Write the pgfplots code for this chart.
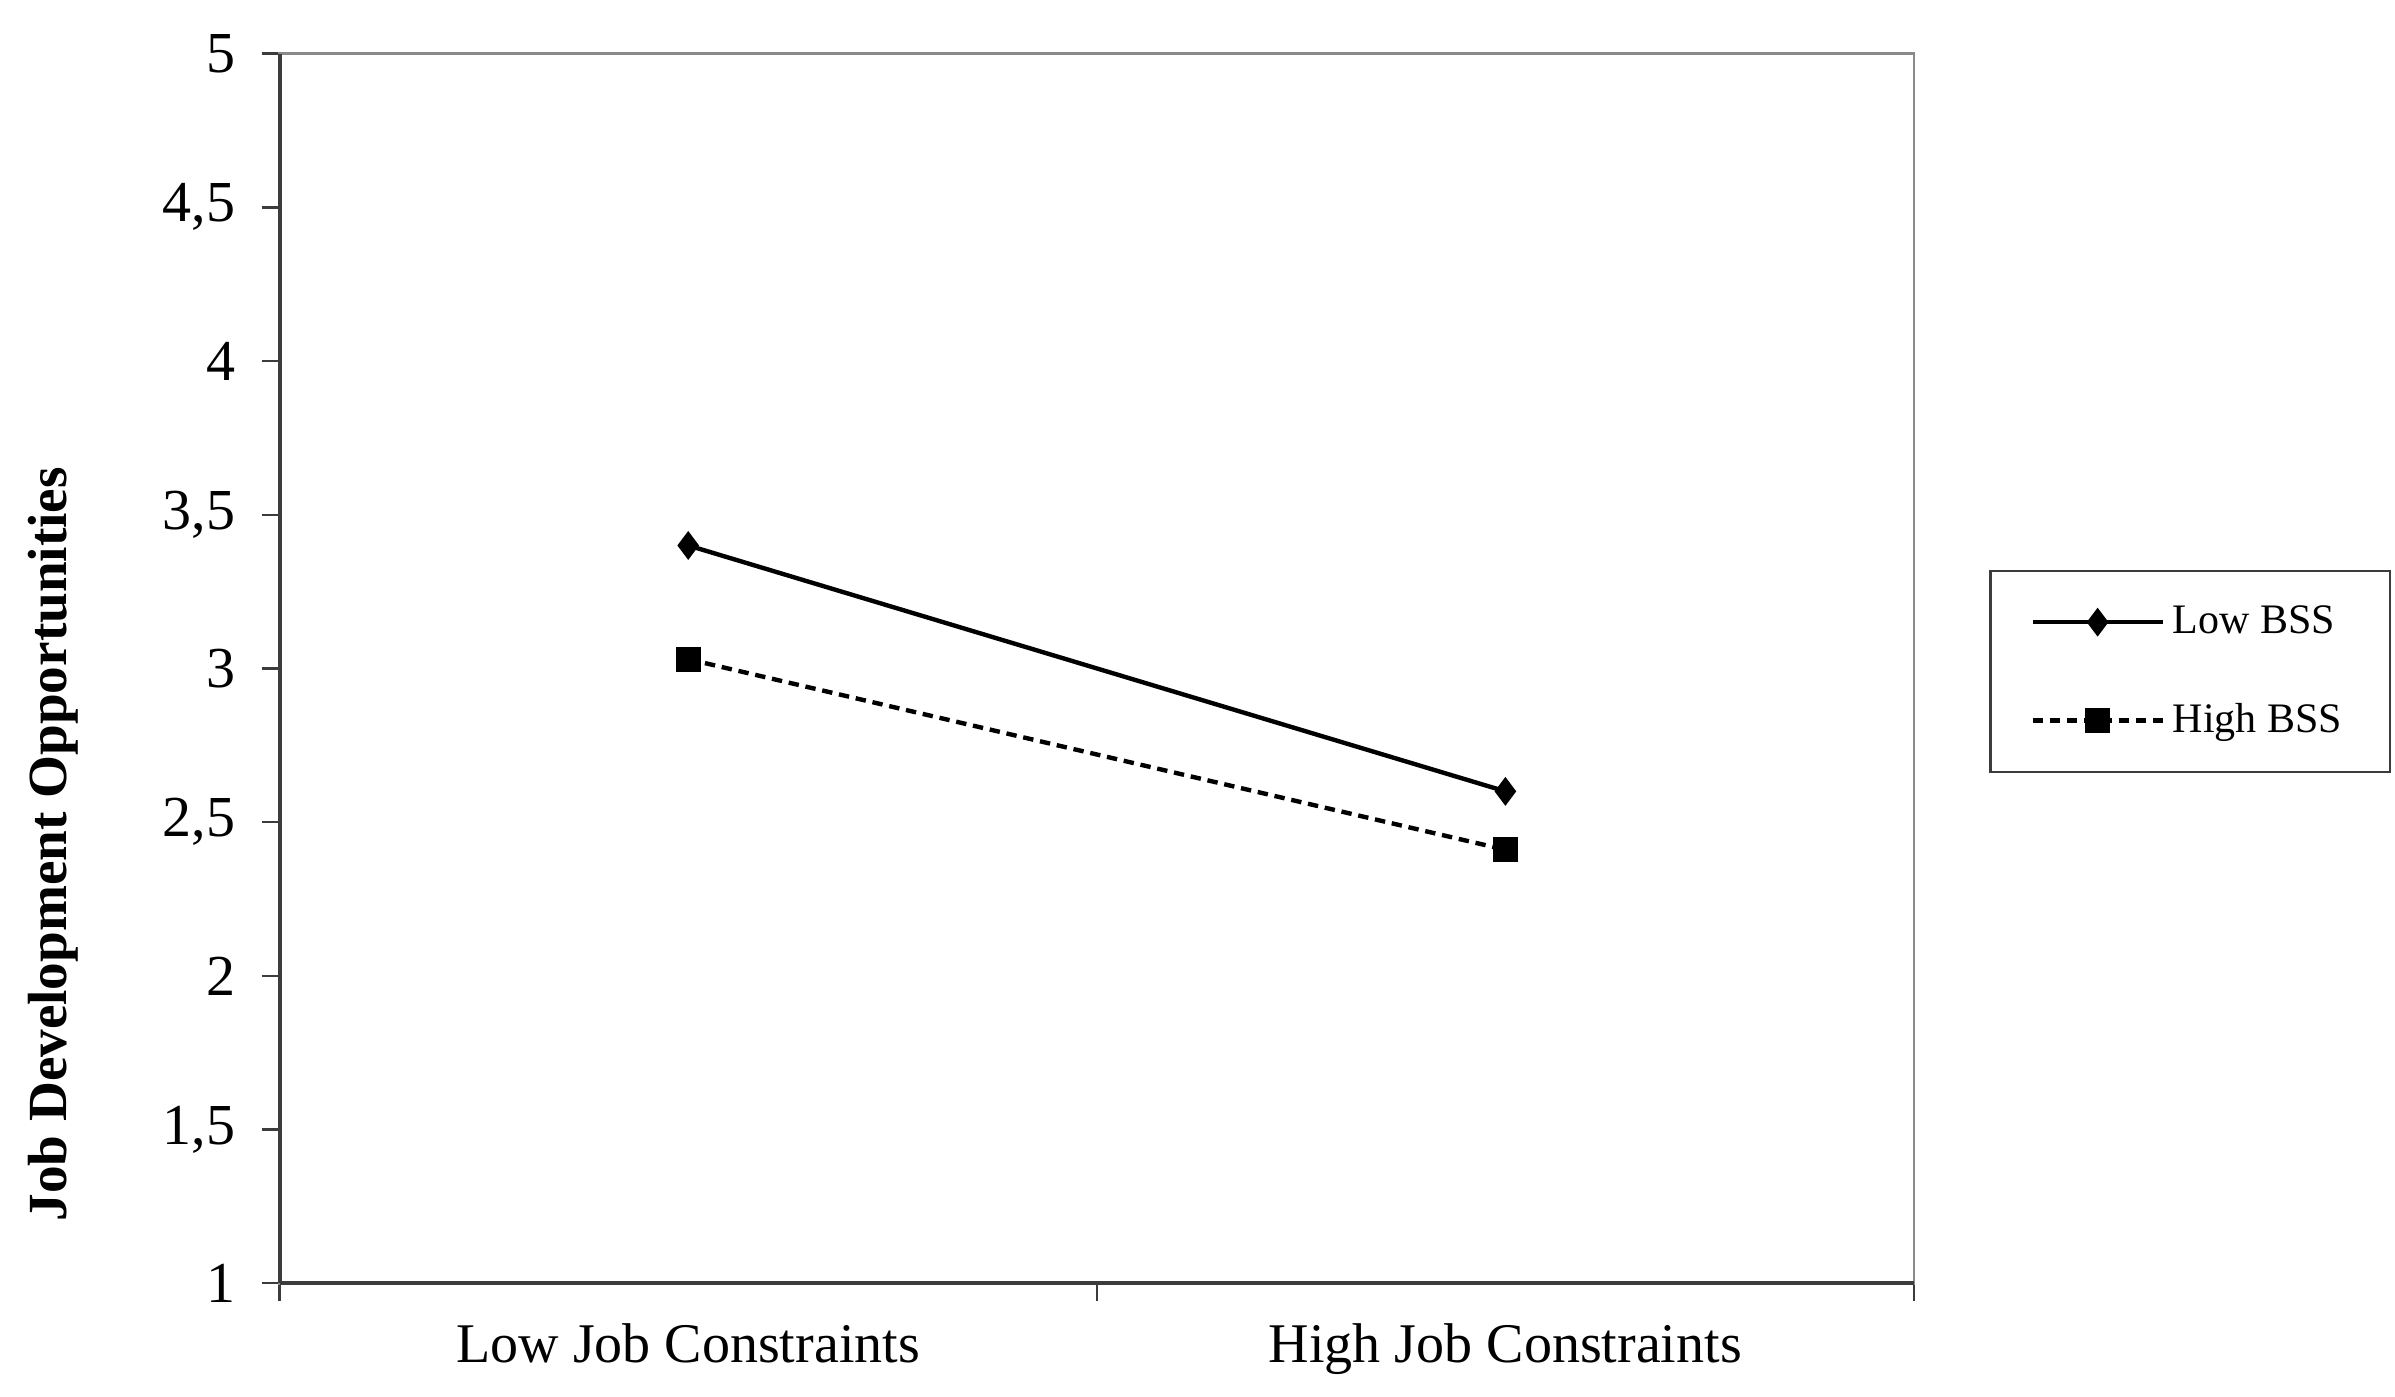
\documentclass[border=0pt]{standalone}
\usepackage{pgfplots}
\pgfplotsset{compat=1.18}
\usepackage{fontspec}
\setmainfont{Liberation Serif}
\definecolor{axdark}{HTML}{3C3C3C}
\definecolor{axlight}{HTML}{8A8A8A}
\begin{document}
\begin{tikzpicture}
\useasboundingbox (-69.9pt,-28.25pt) rectangle (528.85pt,320.8pt);
\begin{axis}[
  at={(0,0)}, anchor=south west,
  scale only axis,
  width=408.6pt, height=307.4pt,
  xmin=0, xmax=2, ymin=1, ymax=5,
  axis lines=box,
  axis line style={draw=axlight, line width=0.7pt},
  xtick={0,1,2}, xticklabels={},
  extra x ticks={0.5,1.5},
  extra x tick labels={Low Job Constraints, High Job Constraints},
  extra x tick style={major tick length=0pt, xticklabel style={yshift=-6.5pt}},
  ytick={1,1.5,2,2.5,3,3.5,4,4.5,5},
  /pgf/number format/use comma,
  /pgf/number format/assume math mode=true,
  xtick pos=bottom, ytick pos=left,
  tick align=outside,
  major tick length=4.5pt,
  tick style={draw=axdark, line width=0.6pt},
  ticklabel style={font=\fontsize{14.5}{17}\selectfont},
  yticklabel style={xshift=-3pt},
  xticklabel style={font=\fontsize{14}{17}\selectfont},
  ylabel={\bfseries Job Development Opportunities},
  ylabel style={at={(axis description cs:-0.1385,0.357)}, anchor=center, font=\fontsize{13.8}{16}\selectfont},
  legend style={
    at={(1.046,0.58)}, anchor=north west,
    draw=axdark, line width=0.6pt,
    font=\fontsize{10.5}{12}\selectfont,
    row sep=12pt, inner xsep=10pt, inner ysep=6.5pt,
    cells={anchor=west},
  },
  legend image code/.code={\draw[mark repeat=2,mark phase=2,#1] plot coordinates {(0pt,0pt) (16.25pt,0pt) (32.5pt,0pt)};},
  clip=false,
]
\addplot[black, line width=1.1pt, mark=diamond*, mark size=2.7pt, mark options={solid}]
  coordinates {(0.5,3.40) (1.5,2.60)};
\addlegendentry{Low BSS}
\addplot[black, line width=1.1pt, dash pattern=on 2.6pt off 1.7pt, mark=square*, mark size=2.6pt, mark options={solid}]
  coordinates {(0.5,3.03) (1.5,2.41)};
\addlegendentry{High BSS}
\draw[axdark, line width=1pt] (rel axis cs:0,0) -- (rel axis cs:0,1);
\draw[axdark, line width=1pt] (rel axis cs:0,0) -- (rel axis cs:1,0);
\end{axis}
\end{tikzpicture}
\end{document}
